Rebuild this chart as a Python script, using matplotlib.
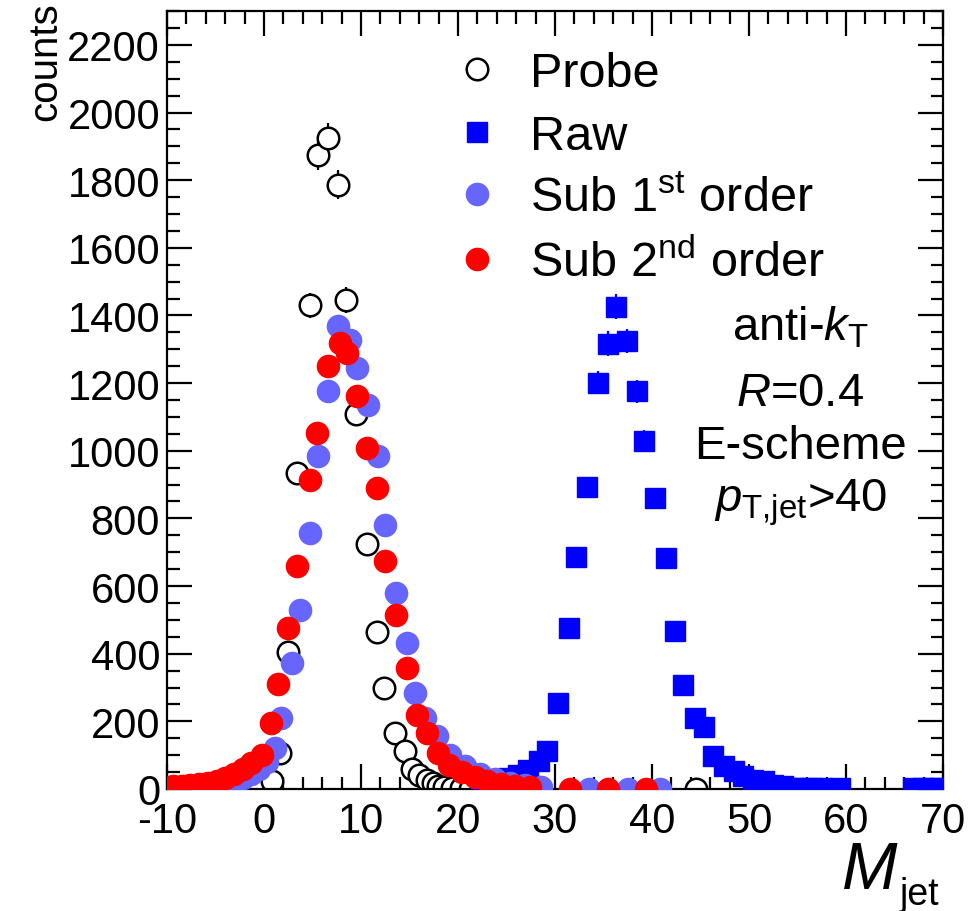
import numpy as np
import matplotlib
matplotlib.use("Agg")
import matplotlib.pyplot as plt
from matplotlib.ticker import MultipleLocator

plt.rcParams["font.family"] = ["Liberation Sans", "DejaVu Sans"]
plt.rcParams["mathtext.fontset"] = "custom"
plt.rcParams["mathtext.rm"] = "Liberation Sans"
plt.rcParams["mathtext.it"] = "Liberation Sans:italic"
plt.rcParams["axes.unicode_minus"] = False

# probe jets (open circles)
probe_x = [0.8, 1.65, 2.5, 3.37, 4.74, 5.57, 6.6, 7.63, 8.45, 9.48, 10.59, 11.62,
           12.4, 13.5, 14.5, 15.3, 16.0, 16.8, 17.4, 17.9, 18.6, 19.4, 20.3, 21.2, 44.5]
probe_y = [25, 105, 405, 935, 1430, 1873, 1926, 1787, 1445, 1110, 725, 464,
           298, 165, 112, 60, 40, 28, 18, 10, 6, 4, 2, 1, 0]

# raw jet mass (squares)
raw_x = [22.4, 23.4, 24.4, 25.3, 26.2, 27.2, 28.3, 29.2, 30.35, 31.4, 32.2, 33.3,
         34.4, 35.5, 36.3, 37.4, 38.4, 39.2, 40.3, 41.4, 42.4, 43.2, 44.4, 45.4,
         46.3, 47.4, 48.4, 49.4, 50.4, 51.5, 52.5, 53.5, 54.5, 55.5, 56.5, 57.5,
         59.4, 66.9, 67.9, 68.9, 69.7]
raw_y = [4, 10, 20, 32, 42, 57, 82, 113, 253, 476, 685, 892,
         1201, 1317, 1426, 1324, 1176, 1030, 861, 683, 468, 307, 210, 183,
         97, 67, 52, 38, 28, 23, 13, 8, 4, 3, 2, 2,
         3, 2, 2, 2, 2]

# 1st order subtraction
sub1_x = [-9.2, -8.2, -7.2, -6.2, -5.2, -4.2, -3.2, -2.2, -1.3, -0.5, 0.3, 1.13,
          1.75, 2.9, 3.7, 4.74, 5.57, 6.6, 7.63, 8.87, 9.56, 10.75, 11.78, 12.47,
          13.58, 14.71, 15.57, 16.6, 17.8, 19.2, 20.7, 22.3, 23.8, 25.4, 26.9, 28.6,
          33.5, 37.5, 40.8]
sub1_y = [4, 5, 6, 8, 11, 15, 22, 32, 45, 60, 80, 121,
          210, 373, 530, 757, 985, 1178, 1370, 1328, 1246, 1136, 985, 781,
          580, 432, 284, 210, 156, 101, 68, 44, 30, 18, 12, 6,
          0, 0, 0]

# 2nd order subtraction
sub2_x = [-9.4, -8.5, -7.6, -6.7, -5.8, -4.9, -4.0, -3.1, -2.2, -1.3, -0.24, 0.72,
          1.47, 2.51, 3.4, 4.74, 5.49, 6.63, 7.84, 8.53, 9.56, 10.59, 11.68, 12.47,
          13.58, 14.71, 15.74, 16.8, 17.9, 19.1, 20.4, 21.7, 23.0, 24.4, 25.9, 27.4,
          31.5, 35.5, 39.4]
sub2_y = [8, 10, 12, 14, 18, 24, 32, 44, 60, 78, 101, 195,
          309, 476, 660, 913, 1053, 1251, 1320, 1290, 1162, 1009, 891, 674,
          515, 358, 220, 165, 105, 72, 50, 35, 24, 15, 9, 5,
          0, 0, 0]

fig = plt.figure(figsize=(9.74, 9.12), dpi=100)
ax = fig.add_axes([0.1715, 0.1338, 0.7967, 0.853])

ax.errorbar(probe_x, probe_y, yerr=np.sqrt(probe_y), fmt="none", ecolor="black",
            elinewidth=1.6, zorder=1)
ax.errorbar(raw_x, raw_y, yerr=np.sqrt(raw_y), fmt="none", ecolor="#0000ff",
            elinewidth=1.6, zorder=1)
h_probe, = ax.plot(probe_x, probe_y, "o", ms=15.5, mfc="white", mec="black", mew=1.8,
                   ls="none", zorder=2, label="Probe")
h_raw, = ax.plot(raw_x, raw_y, "s", ms=15, color="#0000ff", ls="none", zorder=3,
                 label="Raw")
h_sub1, = ax.plot(sub1_x, sub1_y, "o", ms=17, color="#6666ff", mew=0, ls="none",
                  zorder=4, label="Sub 1$^{\\rm st}$ order")
h_sub2, = ax.plot(sub2_x, sub2_y, "o", ms=17, color="#ff0000", mew=0, ls="none",
                  zorder=5, label="Sub 2$^{\\rm nd}$ order")

ax.set_xlim(-10, 70)
ax.set_ylim(0, 2300)
ax.xaxis.set_major_locator(MultipleLocator(10))
ax.xaxis.set_minor_locator(MultipleLocator(2))
ax.yaxis.set_major_locator(MultipleLocator(200))
ax.yaxis.set_minor_locator(MultipleLocator(50))
ax.tick_params(which="both", direction="in", top=True, right=True, width=1.6,
               labelsize=30)
ax.tick_params(which="major", length=18)
ax.tick_params(which="minor", length=9)
ax.tick_params(axis="y", pad=5)
ax.tick_params(axis="x", pad=9)
for s in ax.spines.values():
    s.set_linewidth(1.6)

ax.legend(handles=[h_probe, h_raw, h_sub1, h_sub2], loc="upper left",
          bbox_to_anchor=(0.372, 0.948), frameon=False, fontsize=35,
          borderpad=0, borderaxespad=0, handlelength=0.86, handletextpad=0.66,
          labelspacing=0.36)

ax.text(0.816, 0.578, "anti-$k_{\\rm T}$", transform=ax.transAxes, ha="center",
        va="baseline", fontsize=34)
ax.text(0.816, 0.494, "$R$=0.4", transform=ax.transAxes, ha="center",
        va="baseline", fontsize=34)
ax.text(0.816, 0.425, "E-scheme", transform=ax.transAxes, ha="center",
        va="baseline", fontsize=34)
ax.text(0.816, 0.358, "$p_{\\rm T{,}jet}$>40", transform=ax.transAxes, ha="center",
        va="baseline", fontsize=34)

fig.text(0.921, 0.025, "M", style="italic", ha="right", va="baseline", fontsize=48)
fig.text(0.965, 0.0077, "jet", ha="right", va="baseline", fontsize=27)
fig.text(0.046, 0.997, "counts", rotation=90, ha="center", va="top", fontsize=29)

fig.savefig("out.png", dpi=100)
